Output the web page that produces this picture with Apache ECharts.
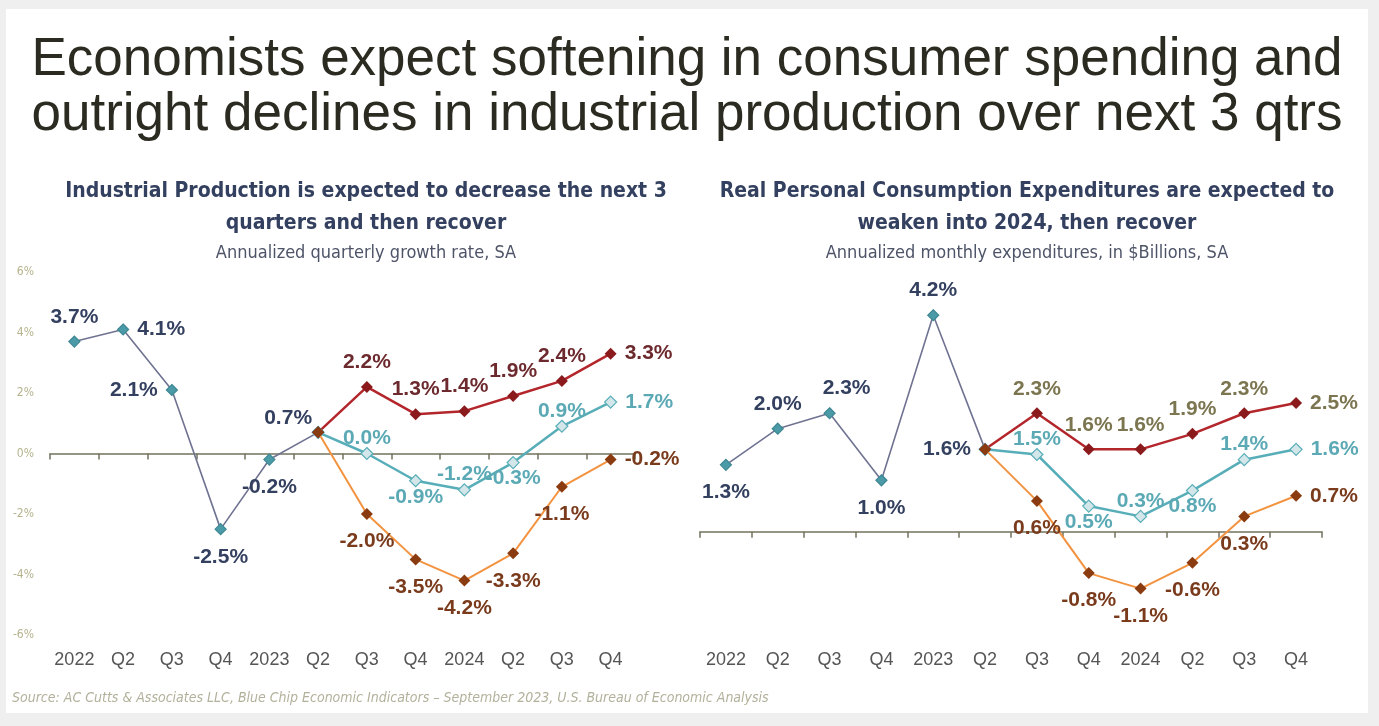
<!DOCTYPE html>
<html><head><meta charset="utf-8">
<script src="https://cdn.jsdelivr.net/npm/echarts@6/dist/echarts.min.js"></script>
<style>html,body{margin:0;padding:0;background:#efefef}#c{width:1379px;height:726px}</style>
</head><body><div id="c"></div>
<script>
// ---------- DATA ----------
const categories = ['2022','Q2','Q3','Q4','2023','Q2','Q3','Q4','2024','Q2','Q3','Q4'];
const ipTickValues = [-6,-4,-2,0,2,4,6];
const ipActual = [3.7, 4.1, 2.1, -2.5, -0.2, 0.7, null, null, null, null, null, null];
const ipHigh   = [null, null, null, null, null, 0.7, 2.2, 1.3, 1.4, 1.9, 2.4, 3.3];
const ipMid    = [null, null, null, null, null, 0.7, 0.0, -0.9, -1.2, -0.3, 0.9, 1.7];
const ipLow    = [null, null, null, null, null, 0.7, -2.0, -3.5, -4.2, -3.3, -1.1, -0.2];
const pceActual = [1.3, 2.0, 2.3, 1.0, 4.2, 1.6, null, null, null, null, null, null];
const pceHigh   = [null, null, null, null, null, 1.6, 2.3, 1.6, 1.6, 1.9, 2.3, 2.5];
const pceMid    = [null, null, null, null, null, 1.6, 1.5, 0.5, 0.3, 0.8, 1.4, 1.6];
const pceLow    = [null, null, null, null, null, 1.6, 0.6, -0.8, -1.1, -0.6, 0.3, 0.7];

const mainTitle = 'Economists expect softening in consumer spending and\noutright declines in industrial production over next 3 qtrs';
const leftTitle = 'Industrial Production is expected to decrease the next 3\nquarters and then recover';
const leftSub = 'Annualized quarterly growth rate, SA';
const rightTitle = 'Real Personal Consumption Expenditures are expected to\nweaken into 2024, then recover';
const rightSub = 'Annualized monthly expenditures, in $Billions, SA';
const sourceText = 'Source: AC Cutts & Associates LLC, Blue Chip Economic Indicators \u2013 September 2023, U.S. Bureau of Economic Analysis';

// ---------- LAYOUT (label placement per point, non-null points only) ----------
const P = {
  ipActual: ['top','right','left','bottom','bottom',['top',-30,10]],
  ipHigh: [null,'top','top','top','top','top','right'],
  ipMid: [null,'top','bottom','top','bottom','top','right'],
  ipLow: [null,'bottom','bottom','bottom','bottom','bottom','right'],
  pceActual: ['bottom','top',['top',17,0],'bottom','top','left'],
  pceHigh: [null,'top','top','top','top','top','right'],
  pceMid: [null,'top','bottom','top','bottom','top','right'],
  pceLow: [null,'bottom','bottom','bottom','bottom','bottom','right']
};

const SANS = "'Liberation Sans', Arial, sans-serif";
const NARROW = "'Liberation Sans Narrow','Arial Narrow','DejaVu Sans Condensed','Liberation Sans',sans-serif";

function build(values, posList, close) {
  let k = 0;
  return values.map(v => {
    if (v === null) return '-';
    const p = posList[k++];
    if (p === null) return { value: v, label: { show: false } };
    let pos = p, dx = 0, dy = 0;
    if (Array.isArray(p)) { pos = p[0]; dx = p[1]; dy = p[2]; }
    let dist = 8;
    if (pos === 'bottom') dist = close ? -1 : 11;
    if (pos === 'top') dist = close ? -2 : 8;
    return { value: v, label: { show: true, position: pos, distance: dist, offset: [dx, dy] } };
  });
}

function lineSeries(name, values, pos, idx, style) {
  return {
    name, type: 'line', xAxisIndex: idx * 2, yAxisIndex: idx,
    data: build(values, pos, style.close),
    symbol: 'diamond', symbolSize: style.symbolSize || 12,
    lineStyle: { color: style.line, width: style.width },
    itemStyle: { color: style.fill, borderColor: style.border || style.fill, borderWidth: style.border ? 1.2 : 0 },
    label: { formatter: p => p.value.toFixed(1) + '%', color: style.label, fontSize: 21, fontWeight: 'bold', fontFamily: SANS },
    z: style.z, animation: false
  };
}

const sActual = { line: '#6f7391', width: 1.6, fill: '#4a9ba7', border: '#3f8793', label: '#34405f', z: 2, symbolSize: 11 };
const sHighL = { line: '#b3262b', width: 2.5, fill: '#8b1a1d', label: '#6d2a2e', z: 3 };
const sHighR = { line: '#b3262b', width: 2.5, fill: '#8b1a1d', label: '#7b7550', z: 3 };
const sMid = { line: '#58aeb8', width: 2.5, fill: '#d3e6e9', border: '#58aeb8', label: '#5ba9b5', z: 3, close: true };
const sLow = { line: '#f39340', width: 2, fill: '#8a3b10', label: '#7a3b1c', z: 4 };

function xAxes(gi) {
  return [
    { type: 'category', gridIndex: gi, data: categories, position: 'bottom',
      axisLine: { show: false, onZero: false }, axisTick: { show: false },
      axisLabel: { interval: 0, color: '#555555', fontSize: 18, fontFamily: SANS, margin: 16 } },
    { type: 'category', gridIndex: gi, data: categories, position: 'bottom',
      axisLine: { show: true, onZero: true, lineStyle: { color: '#73735f', width: 1.5 } },
      axisTick: { show: true, interval: 0, length: 6, lineStyle: { color: '#73735f', width: 1.5 } },
      axisLabel: { show: false } }
  ];
}

const chart = echarts.init(document.getElementById('c'), null, { renderer: 'canvas' });
chart.setOption({
  backgroundColor: '#efefef',
  animation: false,
  graphic: [
    { type: 'rect', shape: { x: 6, y: 9, width: 1362, height: 704 }, style: { fill: '#ffffff' }, z: -10 },
    { type: 'text', left: 12, top: 691, style: { text: sourceText, fill: '#b3b19b', font: "italic 14px " + NARROW } }
  ],
  title: [
    { text: mainTitle, left: 682, top: 28, textAlign: 'center',
      textStyle: { fontSize: 53, fontWeight: 'normal', color: '#2b2b21', lineHeight: 55, fontFamily: SANS } },
    { text: leftTitle, subtext: leftSub, left: 361, top: 171, textAlign: 'center', itemGap: 4,
      textStyle: { fontSize: 21, fontWeight: 'bold', color: '#34405f', lineHeight: 32, fontFamily: NARROW },
      subtextStyle: { fontSize: 18, color: '#4e5468', fontFamily: NARROW } },
    { text: rightTitle, subtext: rightSub, left: 1022, top: 171, textAlign: 'center', itemGap: 4,
      textStyle: { fontSize: 21, fontWeight: 'bold', color: '#34405f', lineHeight: 32, fontFamily: NARROW },
      subtextStyle: { fontSize: 18, color: '#4e5468', fontFamily: NARROW } }
  ],
  grid: [
    { left: 50, width: 585, top: 272, height: 363 },
    { left: 700, width: 622, top: 274, height: 361 }
  ],
  xAxis: [...xAxes(0), ...xAxes(1)],
  yAxis: [
    { type: 'value', gridIndex: 0, min: ipTickValues[0], max: ipTickValues[ipTickValues.length - 1], interval: 2,
      axisLine: { show: false }, axisTick: { show: false }, splitLine: { show: false },
      axisLabel: { formatter: '{value}%', color: '#b5b28c', fontSize: 12, fontFamily: NARROW, margin: 16 } },
    { type: 'value', gridIndex: 1, min: -2, max: 5, interval: 1,
      axisLine: { show: false }, axisTick: { show: false }, splitLine: { show: false }, axisLabel: { show: false } }
  ],
  series: [
    lineSeries('IP actual', ipActual, P.ipActual, 0, sActual),
    lineSeries('IP mid', ipMid, P.ipMid, 0, sMid),
    lineSeries('IP high', ipHigh, P.ipHigh, 0, sHighL),
    lineSeries('IP low', ipLow, P.ipLow, 0, sLow),
    lineSeries('PCE actual', pceActual, P.pceActual, 1, sActual),
    lineSeries('PCE mid', pceMid, P.pceMid, 1, sMid),
    lineSeries('PCE high', pceHigh, P.pceHigh, 1, sHighR),
    lineSeries('PCE low', pceLow, P.pceLow, 1, sLow)
  ]
});
</script></body></html>
